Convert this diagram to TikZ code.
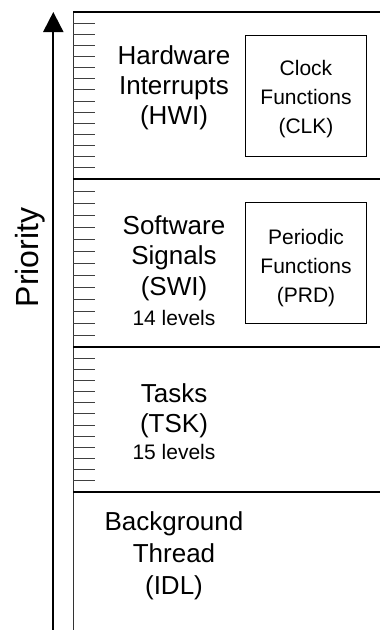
\documentclass[tikz,border=0pt]{standalone}
\usepackage{fontspec}
\setmainfont{Liberation Sans}
\usetikzlibrary{arrows.meta}
\begin{document}
\begin{tikzpicture}[x=1pt,y=-1pt,
  big/.style={font=\fontsize{26}{30}\selectfont, inner sep=0pt, anchor=base},
  small/.style={font=\fontsize{21}{29}\selectfont, inner sep=0pt, anchor=base},
  sepline/.style={line width=1.2pt, black},
  tickline/.style={line width=0.9pt, black!75},
  fbox/.style={draw, line width=1pt, minimum width=121pt, minimum height=121pt, inner sep=0pt},
  ftext/.style={align=center, font=\fontsize{21}{29}\selectfont, inner sep=0pt}]
\useasboundingbox (0,0) rectangle (380,630);
% frame
\coordinate (ltop) at (73.3,12);
\coordinate (lbot) at (73.3,630);
\coordinate (rtop) at (380,12);
\draw[line width=1pt, black!80] (ltop) -- (lbot);
\draw[sepline] (ltop) -- (rtop);
\coordinate (s1l) at (73.3,179); \coordinate (s1r) at (380,179);
\coordinate (s2l) at (73.3,347); \coordinate (s2r) at (380,347);
\coordinate (s3l) at (73.3,492); \coordinate (s3r) at (380,492);
\draw[sepline] (s1l) -- (s1r);
\draw[sepline] (s2l) -- (s2r);
\draw[sepline] (s3l) -- (s3r);
% ticks
\foreach \k in {1,...,14} \draw[tickline] (73.3,{12+\k*167/15}) -- ++(22,0);
\foreach \k in {1,...,13} \draw[tickline] (73.3,{179+\k*168/14}) -- ++(22,0);
\foreach \k in {1,...,12} \draw[tickline] (73.3,{347+\k*145/13}) -- ++(22,0);
% priority arrow
\coordinate (abot) at (53.3,630);
\coordinate (atop) at (53.3,12);
\draw[line width=2pt, -{Triangle[length=20pt,width=20pt]}] (abot) -- (atop);
\node[rotate=90, anchor=base, inner sep=0pt, font=\fontsize{32}{32}\selectfont] (prio) at (38,257.5) {Priority};
% HWI
\node[big] (hwi1) at (174,64.5) {Hardware};
\node[big] (hwi2) at (174,94.5) {Interrupts};
\node[big] (hwi3) at (174,124.5) {(HWI)};
% SWI
\node[big] (swi1) at (174,234) {Software};
\node[big] (swi2) at (174,264.5) {Signals};
\node[big] (swi3) at (174,295) {(SWI)};
\node[small] (swi4) at (174,325.5) {14 levels};
% TSK
\node[big] (tsk1) at (174,402) {Tasks};
\node[big] (tsk2) at (174,432) {(TSK)};
\node[small] (tsk3) at (174,459.5) {15 levels};
% IDL
\node[big] (idl1) at (174,530) {Background};
\node[big] (idl2) at (174,562) {Thread};
\node[big] (idl3) at (174,594.5) {(IDL)};
% boxes
\node[fbox] (clk) at (305.5,95.5) {};
\node[ftext] (clkt) at (306,99) {Clock\\Functions\\(CLK)};
\node[fbox] (prd) at (305.5,263) {};
\node[ftext] (prdt) at (306,268) {Periodic\\Functions\\(PRD)};
\end{tikzpicture}
\end{document}
